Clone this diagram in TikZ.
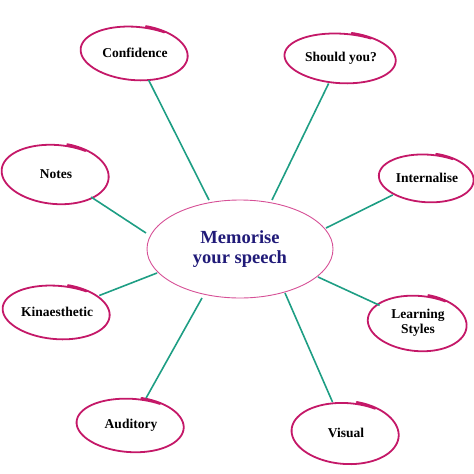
\documentclass[tikz,border=0pt]{standalone}
\usepackage{fontspec}
\setmainfont{Liberation Serif}
\usetikzlibrary{shapes.geometric}
\definecolor{loopc}{RGB}{196,24,104}
\definecolor{centc}{RGB}{214,80,150}
\definecolor{linec}{RGB}{30,158,132}
\definecolor{navyc}{RGB}{32,26,120}
\newcommand{\handring}[4]{%
  \draw[loopline, shift={(#1.center)}, rotate=#4]
    plot[smooth, domain=-80:300, samples=90, variable=\t]
    ({#2*(1+0.07*(\t+80)/380)*cos(\t)},{#3*(1-0.07*(\t+80)/380)*sin(\t)});}
\begin{document}
\begin{tikzpicture}[x=1pt,y=-1pt,
  leaf/.style={ellipse, inner sep=0pt, align=center, text=black,
    font=\bfseries\fontsize{13.5}{15.5}\selectfont},
  hub/.style={ellipse, draw=centc, line width=0.9pt, minimum width=186pt,
    minimum height=98pt, inner sep=0pt, align=center, text=navyc,
    font=\bfseries\fontsize{18.5}{20.5}\selectfont},
  loopline/.style={draw=loopc, line width=1.8pt, line cap=round},
  link/.style={draw=linec, line width=1.6pt}]
\useasboundingbox (0,0) rectangle (474,474);

\node[hub] (hub) at (240,249) {Memorise\\your speech};

\node[leaf, minimum width=104pt, minimum height=56pt] (conf) at (135,53) {Confidence};
\node[leaf, minimum width=108pt, minimum height=52pt] (should) at (341,58) {Should you?};
\node[leaf, minimum width=92pt, minimum height=50pt] (intern) at (427,178) {Internalise};
\node[leaf, minimum width=104pt, minimum height=62pt] (notes) at (56,174) {Notes};
\node[leaf, minimum width=104pt, minimum height=56pt] (kin) at (57,312) {Kinaesthetic};
\node[leaf, minimum width=96pt, minimum height=58pt] (learn) at (418,323) {Learning\\Styles};
\node[leaf, minimum width=104pt, minimum height=56pt] (aud) at (131,425) {Auditory};
\node[leaf, minimum width=104pt, minimum height=64pt] (vis) at (346,433) {Visual};

\handring{conf}{52}{28}{-4}
\handring{should}{54}{26}{-3}
\handring{intern}{46}{25}{-3}
\handring{notes}{52}{31}{-4}
\handring{kin}{52}{28}{-4}
\handring{learn}{48}{29}{-4}
\handring{aud}{52}{28}{-3}
\handring{vis}{52}{32}{-3}

\coordinate (c1) at (209,200);
\coordinate (c2) at (272,200);
\coordinate (c3) at (146,233);
\coordinate (c4) at (326,228);
\coordinate (c5) at (157,273);
\coordinate (c6) at (318,277);
\coordinate (c7) at (202,298);
\coordinate (c8) at (285,293);

\draw[link] (conf) -- (c1);
\draw[link] (should) -- (c2);
\draw[link] (notes) -- (c3);
\draw[link] (intern) -- (c4);
\draw[link] (kin) -- (c5);
\draw[link] (learn) -- (c6);
\draw[link] (aud) -- (c7);
\draw[link] (vis) -- (c8);
\end{tikzpicture}
\end{document}
